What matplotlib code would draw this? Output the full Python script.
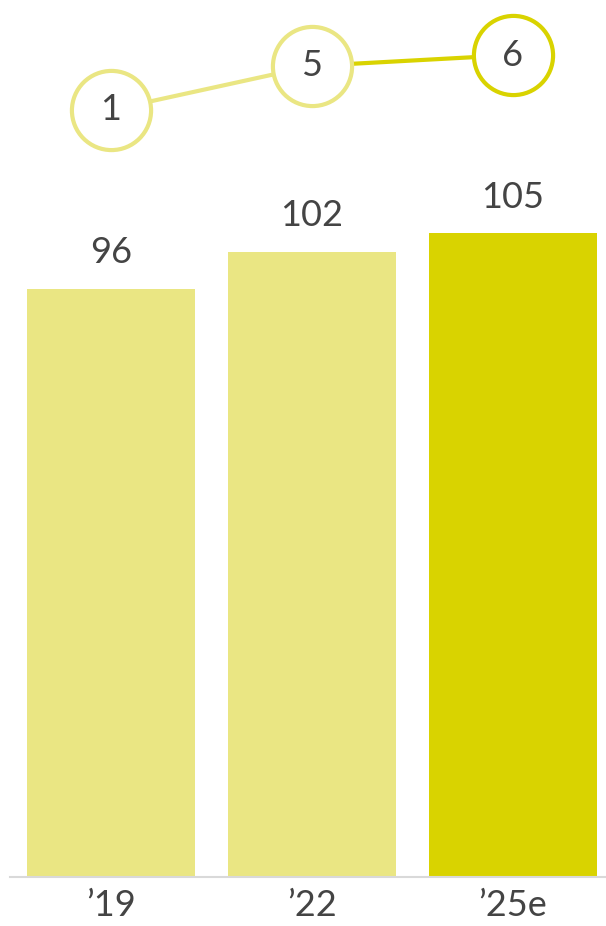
import matplotlib.pyplot as plt

years = ["\u201919", "\u201922", "\u201925e"]
totals = [96, 102, 105]
ranks = [1, 5, 6]

light = "#EAE683"
dark = "#D9D300"
text_color = "#444444"
bar_colors = [light, light, dark]
ring_colors = [light, light, dark]

plt.rcParams["font.family"] = ["Lato", "DejaVu Sans"]

fig = plt.figure(figsize=(6.06, 9.26), dpi=100)
ax = fig.add_axes([10 / 606, 49 / 926, 596 / 606, 877 / 926])

x = list(range(len(years)))
bars = ax.bar(x, totals, width=0.836, color=bar_colors, zorder=2)
ax.set_xlim(-0.5025, 2.4627)
ax.set_ylim(0, 877 / 6.13)

for rect, v in zip(bars, totals):
    ax.annotate(str(v), (rect.get_x() + rect.get_width() / 2, v),
                xytext=(0, 14), textcoords="offset points",
                ha="center", va="bottom", fontsize=26, color=text_color)

ax.set_xticks(x)
ax.set_xticklabels(years, fontsize=26, color=text_color)
ax.tick_params(axis="x", length=0, pad=9)
ax.set_yticks([])
for side in ["top", "right", "left"]:
    ax.spines[side].set_visible(False)
ax.spines["bottom"].set_color("#d9d9d9")
ax.spines["bottom"].set_linewidth(1.5)

# rank line on its own scale above the bars
ax2 = ax.twinx()
ax2.set_ylim(1 - 767 / 11, 1 + 110 / 11)
ax2.set_yticks([])
for s in ax2.spines.values():
    s.set_visible(False)

for i in range(len(ranks) - 1):
    ax2.plot(x[i:i + 2], ranks[i:i + 2], color=ring_colors[i + 1],
             linewidth=3, solid_capstyle="butt", zorder=1)
for xi, r, c in zip(x, ranks, ring_colors):
    ax2.plot(xi, r, marker="o", markersize=57, markerfacecolor="white",
             markeredgecolor=c, markeredgewidth=3, zorder=3)
    ax2.text(xi, r, str(r), ha="center", va="center", fontsize=26,
             color=text_color, zorder=4)

fig.savefig("out.png", dpi=100)
